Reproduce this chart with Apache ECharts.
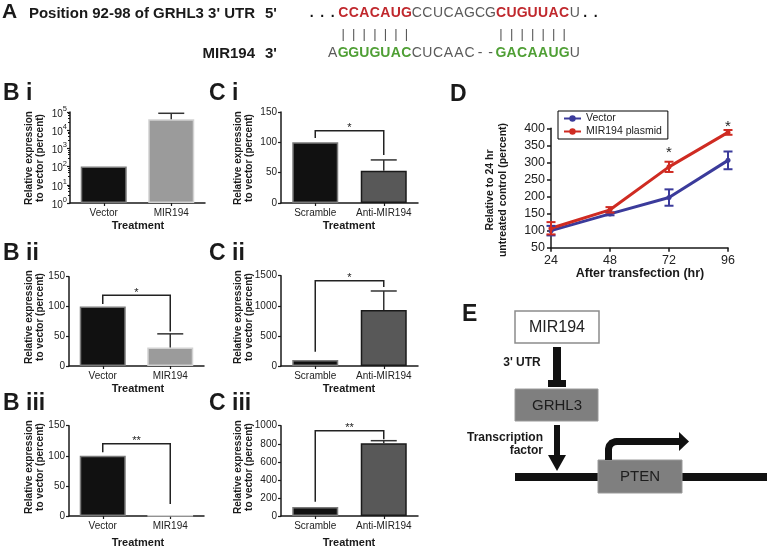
<!DOCTYPE html>
<html><head><meta charset="utf-8">
<script src="https://cdn.jsdelivr.net/npm/echarts@6/dist/echarts.min.js"></script>
<style>html,body{margin:0;padding:0;background:#fff}#c{width:767px;height:548px}</style>
</head><body><div id="c"></div>
<script>
// ---------------- data ----------------
const utrSeq = '...CCACAUGCCUCAGCGCUGUUACU..';
const mirSeq = 'AGGUGUACCUCAAC--GACAAUGU';
const seedCols = [[0, 6], [15, 21]];

const biCats = ['Vector', 'MIR194'];
const biValues = [100, 40000];
const biErrTop = [100, 85000];
const biYTicks = [1, 10, 100, 1000, 10000, 100000];

const ciCats = ['Scramble', 'Anti-MIR194'];
const ciValues = [100, 53];
const ciErrTop = [100, 71];
const ciYTicks = [0, 50, 100, 150];
const ciBracket = [107, 119, 79];
const ciSig = '*';

const biiCats = ['Vector', 'MIR194'];
const biiValues = [100, 31];
const biiErrTop = [100, 54];
const biiYTicks = [0, 50, 100, 150];
const biiBracket = [104, 119, 58];
const biiSig = '*';

const ciiCats = ['Scramble', 'Anti-MIR194'];
const ciiValues = [100, 930];
const ciiErrTop = [100, 1246];
const ciiYTicks = [0, 500, 1000, 1500];
const ciiBracket = [238, 1417, 1312];
const ciiSig = '*';

const biiiCats = ['Vector', 'MIR194'];
const biiiValues = [100, 0.5];
const biiiErrTop = [100, 0.5];
const biiiYTicks = [0, 50, 100, 150];
const biiiBracket = [106, 120, 20];
const biiiSig = '**';

const ciiiCats = ['Scramble', 'Anti-MIR194'];
const ciiiValues = [100, 805];
const ciiiErrTop = [100, 834];
const ciiiYTicks = [0, 200, 400, 600, 800, 1000];
const ciiiBracket = [158, 945, 850];
const ciiiSig = '**';

const dHours = [24, 48, 72, 96];
const dXTicks = [24, 48, 72, 96];
const dYTicks = [50, 100, 150, 200, 250, 300, 350, 400];
const vecMean = [100, 149, 197, 306];
const vecErr = [14, 4, 24, 26];
const mirMean = [107, 161, 287, 388];
const mirErr = [18, 8, 15, 7];
const dSig = [[72, 336, '*'], [96, 413, '*']];
const dNames = ['Vector', 'MIR194 plasmid'];

// ---------------- styles ----------------
const FONT = '"Liberation Sans", Arial, Helvetica, sans-serif';
const INK = '#1a1a1a';
const RED = '#c0282d', GREEN = '#4f9f35', SEQGRAY = '#5a5a5a';
const VEC = '#3b3b9b', MIR = '#cf2b22';

const grids = [
  {left: 70, top: 112, width: 135, height: 91},      // B i
  {left: 281, top: 112, width: 137, height: 91},     // C i
  {left: 551, top: 128.3, width: 177, height: 119.4},// D
  {left: 69, top: 276.7, width: 135, height: 89.3},  // B ii
  {left: 281, top: 275.7, width: 137, height: 90.3}, // C ii
  {left: 69, top: 425.7, width: 135, height: 90.3},  // B iii
  {left: 281, top: 425.7, width: 137, height: 90.3}  // C iii
];

const barStyles = {
  B: {fill: ['#111111', '#9b9b9b'], border: ['#7a7a7a', '#d2d2d2']},
  C: {fill: ['#111111', '#585858'], border: ['#7a7a7a', '#1a1a1a']}
};

const panels = [
  {grid: 0, kind: 'B', cats: biCats, vals: biValues, errs: biErrTop, ticks: biYTicks, log: true},
  {grid: 1, kind: 'C', cats: ciCats, vals: ciValues, errs: ciErrTop, ticks: ciYTicks, br: ciBracket, sig: ciSig},
  {grid: 3, kind: 'B', cats: biiCats, vals: biiValues, errs: biiErrTop, ticks: biiYTicks, br: biiBracket, sig: biiSig},
  {grid: 4, kind: 'C', cats: ciiCats, vals: ciiValues, errs: ciiErrTop, ticks: ciiYTicks, br: ciiBracket, sig: ciiSig},
  {grid: 5, kind: 'B', cats: biiiCats, vals: biiiValues, errs: biiiErrTop, ticks: biiiYTicks, br: biiiBracket, sig: biiiSig},
  {grid: 6, kind: 'C', cats: ciiiCats, vals: ciiiValues, errs: ciiiErrTop, ticks: ciiiYTicks, br: ciiiBracket, sig: ciiiSig}
];

const axisLine = {show: true, lineStyle: {color: INK, width: 1.5}};
const xAxes = [], yAxes = [], series = [];

panels.forEach((p, k) => {
  xAxes.push({
    type: 'category', gridIndex: p.grid, data: p.cats, boundaryGap: true,
    axisLine: axisLine, axisTick: {show: true, alignWithLabel: true, interval: 0, length: 3, lineStyle: {color: INK, width: 1.2}},
    axisLabel: {fontSize: 10, color: '#222', margin: 5, fontFamily: FONT, interval: 0, hideOverlap: false}, splitLine: {show: false}
  });
  const ya = {
    gridIndex: p.grid, axisLine: axisLine,
    axisTick: {show: true, length: 3, lineStyle: {color: INK, width: 1.2}},
    splitLine: {show: false},
    axisLabel: {fontSize: 10, color: '#222', margin: 4, fontFamily: FONT, formatter: v => String(v)}
  };
  if (p.log) {
    Object.assign(ya, {type: 'log', logBase: 10, min: p.ticks[0], max: p.ticks[p.ticks.length - 1]});
    ya.minorTick = {show: true, splitNumber: 5, length: 2, lineStyle: {color: INK, width: 1}};
    ya.axisLabel.margin = 3;
    ya.axisLabel.formatter = v => '{b|10}{s|' + Math.round(Math.log10(v)) + '}';
    ya.axisLabel.rich = {
      b: {fontSize: 10, lineHeight: 14, verticalAlign: 'bottom', color: '#222', fontFamily: FONT},
      s: {fontSize: 7.5, lineHeight: 14, verticalAlign: 'top', color: '#222', fontFamily: FONT}
    };
  } else {
    Object.assign(ya, {type: 'value', min: p.ticks[0], max: p.ticks[p.ticks.length - 1], interval: p.ticks[1] - p.ticks[0]});
  }
  yAxes.push(ya);
  const st = barStyles[p.kind];
  series.push({
    type: 'bar', xAxisIndex: k, yAxisIndex: k, barWidth: 46, z: 2,
    data: p.vals.map((v, i) => ({value: v, itemStyle: {color: st.fill[i], borderColor: st.border[i], borderWidth: 1.5}}))
  });
  series.push({
    type: 'custom', xAxisIndex: k, yAxisIndex: k, z: 5,
    data: p.vals.map((v, i) => [i, v, p.errs[i]]),
    renderItem: (params, api) => {
      const i = api.value(0), v = api.value(1), t = api.value(2);
      if (!(t > v)) return {type: 'group', children: []};
      const p0 = api.coord([i, v]), p1 = api.coord([i, t]);
      const hw = 13;
      return {type: 'group', children: [
        {type: 'line', shape: {x1: p0[0], y1: p0[1], x2: p1[0], y2: p1[1]}, style: {stroke: '#333', lineWidth: 1.5}},
        {type: 'line', shape: {x1: p1[0] - hw, y1: p1[1], x2: p1[0] + hw, y2: p1[1]}, style: {stroke: '#333', lineWidth: 1.5}}
      ]};
    }
  });
  if (p.br) {
    series.push({
      type: 'custom', xAxisIndex: k, yAxisIndex: k, z: 6, clip: false,
      data: [[0, p.br[0], p.br[1], p.br[2]]],
      renderItem: (params, api) => {
        const a = api.coord([0, api.value(1)]);
        const t0 = api.coord([0, api.value(2)]);
        const t1 = api.coord([1, api.value(2)]);
        const b = api.coord([1, api.value(3)]);
        return {type: 'group', children: [
          {type: 'polyline', shape: {points: [a, t0, t1, b]}, style: {stroke: '#222', lineWidth: 1.5, fill: null}},
          {type: 'text', x: (t0[0] + t1[0]) / 2, y: t0[1] - 2.5,
           style: {text: p.sig, fontSize: 11, fontFamily: FONT, fill: '#222', align: 'center', verticalAlign: 'middle'}}
        ]};
      }
    });
  }
});

// ---- panel D ----
const dxi = xAxes.length;
xAxes.push({
  type: 'value', gridIndex: 2, min: dXTicks[0], max: dXTicks[dXTicks.length - 1], interval: dXTicks[1] - dXTicks[0],
  axisLine: axisLine, axisTick: {show: true, length: 4, lineStyle: {color: INK, width: 1.5}},
  axisLabel: {fontSize: 12.5, color: '#222', margin: 6, fontFamily: FONT}, splitLine: {show: false}
});
yAxes.push({
  type: 'value', gridIndex: 2, min: dYTicks[0], max: dYTicks[dYTicks.length - 1], interval: dYTicks[1] - dYTicks[0],
  axisLine: axisLine, axisTick: {show: true, length: 4, lineStyle: {color: INK, width: 1.5}},
  axisLabel: {fontSize: 12.5, color: '#222', margin: 6, fontFamily: FONT}, splitLine: {show: false}
});
[[vecMean, vecErr, VEC, dNames[0]], [mirMean, mirErr, MIR, dNames[1]]].forEach(([m, e, col, name]) => {
  series.push({
    type: 'line', name: name, xAxisIndex: dxi, yAxisIndex: dxi, z: 3,
    data: dHours.map((h, i) => [h, m[i]]),
    symbol: 'circle', symbolSize: 5, itemStyle: {color: col}, lineStyle: {color: col, width: 3}
  });
  series.push({
    type: 'custom', xAxisIndex: dxi, yAxisIndex: dxi, z: 4, clip: false,
    data: dHours.map((h, i) => [h, m[i] - e[i], m[i] + e[i]]),
    renderItem: (params, api) => {
      const lo = api.coord([api.value(0), api.value(1)]);
      const hi = api.coord([api.value(0), api.value(2)]);
      const hw = 4.5;
      return {type: 'group', children: [
        {type: 'line', shape: {x1: lo[0], y1: lo[1], x2: hi[0], y2: hi[1]}, style: {stroke: col, lineWidth: 2}},
        {type: 'line', shape: {x1: lo[0] - hw, y1: lo[1], x2: lo[0] + hw, y2: lo[1]}, style: {stroke: col, lineWidth: 2}},
        {type: 'line', shape: {x1: hi[0] - hw, y1: hi[1], x2: hi[0] + hw, y2: hi[1]}, style: {stroke: col, lineWidth: 2}}
      ]};
    }
  });
});
series.push({
  type: 'custom', xAxisIndex: dxi, yAxisIndex: dxi, z: 6, clip: false,
  data: dSig,
  renderItem: (params, api) => {
    const pt = api.coord([api.value(0), api.value(1)]);
    return {type: 'text', x: pt[0], y: pt[1] + 3,
      style: {text: dSig[params.dataIndex][2], fontSize: 15, fontFamily: FONT, fill: '#222', align: 'center', verticalAlign: 'middle'}};
  }
});

// ---------------- graphic texts & diagram ----------------
function T(text, x, y, o) {
  o = o || {};
  const st = {text: text, fill: o.color || INK, fontSize: o.size || 10, fontWeight: o.weight || 'normal', fontFamily: FONT,
      align: o.align || 'center', verticalAlign: 'middle'};
  if (o.lh) st.lineHeight = o.lh;
  return {type: 'text', x: x, y: y, z: 10, rotation: o.rot || 0, silent: true, style: st};
}
const g = [];
// Panel A
g.push(T('A', 2, 12.5, {size: 21, weight: 'bold', align: 'left'}));
g.push(T("Position 92-98 of GRHL3 3' UTR", 255, 14, {size: 15, weight: 'bold', align: 'right'}));
g.push(T("5'", 265, 14, {size: 15, weight: 'bold', align: 'left'}));
g.push(T('MIR194', 255, 53.5, {size: 15, weight: 'bold', align: 'right'}));
g.push(T("3'", 265, 53.5, {size: 15, weight: 'bold', align: 'left'}));
const CW = 10.52, X0 = 338;
const inSeed = c => seedCols.some(r => c >= r[0] && c <= r[1]);
for (let i = 0; i < utrSeq.length; i++) {
  const c = i - 3, ch = utrSeq[i];
  const seed = inSeed(c);
  g.push(T(ch, X0 + (c + 0.5) * CW, 13.5, {size: 14, weight: (seed || ch === '.') ? 'bold' : 'normal',
    color: ch === '.' ? '#111' : (seed ? RED : SEQGRAY)}));
}
for (let i = 0; i < mirSeq.length; i++) {
  const c = i - 1, ch = mirSeq[i];
  const seed = inSeed(c);
  g.push(T(ch, X0 + (c + 0.5) * CW, 53.5, {size: 14, weight: seed ? 'bold' : 'normal', color: seed ? GREEN : SEQGRAY}));
}
seedCols.forEach(r => { for (let c = r[0]; c <= r[1]; c++) g.push(T('|', X0 + (c + 0.5) * CW, 34, {size: 13, color: '#555'})); });

// panel labels
[['B i', 3, 93.5], ['C i', 209, 93.5], ['B ii', 3, 253.5], ['C ii', 209, 253.5], ['B iii', 3, 404], ['C iii', 209, 404], ['D', 450, 95], ['E', 462, 315]]
  .forEach(([t, x, y]) => g.push(T(t, x, y, {size: 23, weight: 'bold', align: 'left'})));

// axis titles for bar panels
const yTitle = 'Relative expression\nto vector (percent)';
[[34.5, 158], [34.5, 317], [34.5, 467], [244, 158], [244, 317], [244, 467]]
  .forEach(([x, y]) => g.push(T(yTitle, x, y, {size: 10, weight: 'bold', rot: Math.PI / 2, lh: 11})));
[[138, 226], [138, 389], [138, 543], [349, 226], [349, 389], [349, 543]]
  .forEach(([x, y]) => g.push(T('Treatment', x, y, {size: 11, weight: 'bold'})));
// D titles
g.push(T('Relative to 24 hr\nuntreated control (percent)', 497, 190, {size: 10.5, weight: 'bold', rot: Math.PI / 2, lh: 13}));
g.push(T('After transfection (hr)', 640, 274, {size: 12.5, weight: 'bold'}));

// Panel E diagram
g.push({type: 'rect', shape: {x: 515, y: 311, width: 84, height: 32}, style: {fill: '#fff', stroke: '#8c8c8c', lineWidth: 1.5}});
g.push(T('MIR194', 557, 327.5, {size: 16, color: '#222'}));
g.push({type: 'rect', shape: {x: 553, y: 347, width: 8, height: 36}, style: {fill: '#111'}});
g.push({type: 'rect', shape: {x: 548, y: 380, width: 18, height: 7}, style: {fill: '#111'}});
g.push(T("3' UTR", 522, 363, {size: 12, weight: 'bold'}));
g.push({type: 'rect', shape: {x: 515, y: 389, width: 83, height: 32}, style: {fill: '#7f7f7f', stroke: '#9a9a9a', lineWidth: 1}});
g.push(T('GRHL3', 557, 405.5, {size: 15, color: '#1d1d1d'}));
g.push({type: 'rect', shape: {x: 554, y: 425, width: 6, height: 32}, style: {fill: '#111'}});
g.push({type: 'polygon', shape: {points: [[548, 455], [566, 455], [557, 471]]}, style: {fill: '#111'}});
g.push(T('Transcription', 543, 438, {size: 12, weight: 'bold', align: 'right'}));
g.push(T('factor', 543, 451, {size: 12, weight: 'bold', align: 'right'}));
g.push({type: 'rect', shape: {x: 515, y: 473, width: 252, height: 8}, style: {fill: '#111'}});
g.push({type: 'rect', shape: {x: 598, y: 460, width: 84, height: 33}, style: {fill: '#7f7f7f', stroke: '#9a9a9a', lineWidth: 1}});
g.push(T('PTEN', 640, 477, {size: 15, color: '#1d1d1d'}));
g.push({type: 'polyline', shape: {points: [[608.5, 460], [608.5, 449], [609.3, 445.7], [611.5, 443.2], [614.5, 441.8], [617, 441.5], [681, 441.5]]},
  style: {fill: null, stroke: '#111', lineWidth: 7, lineJoin: 'round'}});
g.push({type: 'polygon', shape: {points: [[679, 432], [689, 441.5], [679, 451]]}, style: {fill: '#111'}});

const chart = echarts.init(document.getElementById('c'), null, {renderer: 'canvas'});
chart.setOption({
  backgroundColor: '#fff',
  animation: false,
  textStyle: {fontFamily: FONT},
  grid: grids,
  xAxis: xAxes,
  yAxis: yAxes,
  legend: {
    data: dNames, orient: 'vertical', left: 558, top: 111, itemWidth: 17, itemHeight: 8, itemGap: 2,
    padding: [2, 6, 2, 5], borderColor: '#000', borderWidth: 1, backgroundColor: '#fff',
    textStyle: {fontSize: 10.5, color: '#222', fontFamily: FONT}
  },
  series: series,
  graphic: {elements: g}
});
</script></body></html>
